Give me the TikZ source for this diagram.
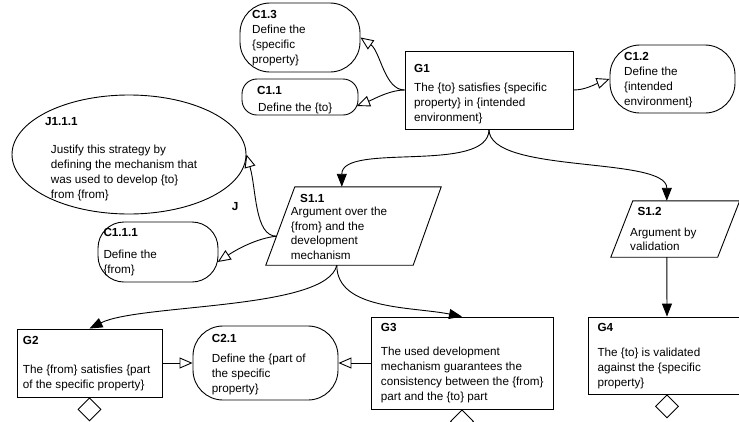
\documentclass[tikz,border=0pt]{standalone}
\usepackage{fontspec}
\setmainfont{Liberation Sans}
\usetikzlibrary{arrows.meta,calc,shapes.geometric}
\tikzset{
  ln/.style={line width=0.9pt},
  goalbox/.style={draw, ln, rectangle, inner sep=0pt},
  ctxbox/.style={draw, ln, rectangle, inner sep=0pt},
  ghost/.style={rectangle, inner sep=0pt},
  dia/.style={draw, ln, diamond, inner sep=0pt, minimum width=23pt, minimum height=23pt, anchor=north},
  ttl/.style={anchor=base west, inner sep=0pt, font=\fontsize{11.7}{15}\selectfont\bfseries},
  txt/.style={anchor=base west, inner sep=0pt, align=left, font=\fontsize{11.7}{15}\selectfont},
  inarrow/.style={ln, -{Triangle[open, length=13pt, width=11pt]}},
  solarrow/.style={ln, -{Triangle[length=13pt, width=10pt]}},
}
\begin{document}
\begin{tikzpicture}[x=1pt,y=-1pt]
\useasboundingbox (0,0) rectangle (739,421);
\clip (0,0) rectangle (739,421);
% ---- shapes
\node[ctxbox, rounded corners=30pt, minimum width=120pt, minimum height=69pt] (C13) at (300,37.5) {};
\node[ctxbox, rounded corners=15pt, minimum width=116pt, minimum height=36pt] (C11) at (300,97) {};
\node[ctxbox, rounded corners=30pt, minimum width=125pt, minimum height=68pt] (C12) at (672.5,79) {};
\node[goalbox, minimum width=168pt, minimum height=78pt] (G1) at (489,90) {};
\node[draw, ln, ellipse, inner sep=0pt, minimum width=234pt, minimum height=119pt] (J111) at (129,154.5) {};
\node[ctxbox, rounded corners=26pt, minimum width=120pt, minimum height=60pt] (C111) at (158,252) {};
\node[ghost, minimum width=175pt, minimum height=78pt] (S11) at (353.5,226) {};
\node[ghost, minimum width=128.5pt, minimum height=56pt] (S12) at (675.25,229) {};
\node[goalbox, minimum width=145pt, minimum height=68pt] (G2) at (89.5,363) {};
\node[ctxbox, rounded corners=30pt, minimum width=145pt, minimum height=74pt] (C21) at (265.5,363) {};
\node[goalbox, minimum width=182pt, minimum height=92pt] (G3) at (462,363) {};
\node[goalbox, minimum width=158pt, minimum height=77pt] (G4) at (667,355.5) {};
\node[dia] (D2) at (G2.south) {};
\node[dia] (D3) at (G3.south) {};
\node[dia] (D4) at (G4.south) {};
% parallelogram corners
\coordinate (S11tl) at ($(S11.north west)+(29,0)$);
\coordinate (S11br) at ($(S11.south east)+(-28,0)$);
\coordinate (S12tl) at ($(S12.north west)+(22,0)$);
\coordinate (S12br) at ($(S12.south east)+(-22,0)$);
\draw[ln] (S11tl) -- (S11.north east) -- (S11br) -- (S11.south west) -- cycle;
\draw[ln] (S12tl) -- (S12.north east) -- (S12br) -- (S12.south west) -- cycle;
% ---- texts (body nodes placed at the baseline of their last line)
\node[ttl] (C13t) at (252,18.3) {C1.3};
\node[txt] (C13b) at (252,63.3) {Define the\\\{specific\\property\}};
\node[ttl] (C11t) at (257,94.3) {C1.1};
\node[txt] (C11b) at (258,111) {Define the \{to\}};
\node[ttl] (G1t) at (414,72.7) {G1};
\node[txt] (G1b) at (414,121.7) {The \{to\} satisfies \{specific\\property\} in \{intended\\environment\}};
\node[ttl] (C12t) at (624,60.7) {C1.2};
\node[txt] (C12b) at (624,105.7) {Define the\\\{intended\\environment\}};
\node[ttl] (J111t) at (45,125) {J1.1.1};
\node[txt] (J111b) at (50.7,198.3) {Justify this strategy by\\defining the mechanism that\\was used to develop \{to\}\\from \{from\}};
\node[ttl] (Jlbl) at (231.7,210) {J};
\node[ttl] (C111t) at (103.3,236.7) {C1.1.1};
\node[txt] (C111b) at (103.3,273) {Define the\\\{from\}};
\node[ttl] (S11t) at (300,202.3) {S1.1};
\node[txt, font=\fontsize{11.7}{14.5}\selectfont] (S11b) at (290.7,259) {Argument over the\\\{from\} and the\\development\\mechanism};
\node[ttl] (S12t) at (637.3,215) {S1.2};
\node[txt, font=\fontsize{11.7}{14}\selectfont] (S12b) at (630,250) {Argument by\\validation};
\node[ttl] (G2t) at (22.7,344) {G2};
\node[txt] (G2b) at (22.7,388.3) {The \{from\} satisfies \{part\\of the specific property\}};
\node[ttl] (C21t) at (211.7,342.3) {C2.1};
\node[txt] (C21b) at (211.7,392) {Define the \{part of\\the specific\\property\}};
\node[ttl] (G3t) at (380.7,331.7) {G3};
\node[txt] (G3b) at (380.7,400.7) {The used development\\mechanism guarantees the\\consistency between the \{from\}\\part and the \{to\} part};
\node[ttl] (G4t) at (597.3,331.7) {G4};
\node[txt] (G4b) at (597.3,386.7) {The \{to\} is validated\\against the \{specific\\property\}};
% ---- connector end points
\coordinate (C11tip) at ($(C11.east)+(-1.5,9)$);
\coordinate (C111tip) at ($(C111.east)+(-0.7,10)$);
\coordinate (S11top) at ($(S11.north west)+(76,0)$);
\coordinate (S11bot) at ($(S11.south west)+(71,0)$);
\coordinate (S11left) at ($(S11tl)!0.63!(S11.south west)$);
\coordinate (S12top) at ($(S12.north west)+(56,0)$);
\coordinate (S12bot) at ($(S12.south west)+(56,0)$);
% ---- connectors
\draw[inarrow] (G1.west) .. controls +(-20,0) and +(20,14) .. (C13.east);
\draw[inarrow] (G1.west) .. controls +(-15,0) and +(15,-6) .. (C11tip);
\draw[inarrow] (G1.east) .. controls +(12,0) and +(-14,5) .. (C12.west);
\draw[solarrow] (G1.south) .. controls +(0,45) and +(0,-45) .. (S11top);
\draw[solarrow] (G1.south) .. controls +(0,45) and +(0,-45) .. (S12top);
\draw[inarrow] (S11left) .. controls +(-22,0) and +(10,35) .. (J111.east);
\draw[inarrow] (S11left) .. controls +(-20,2) and +(18,-12) .. (C111tip);
\draw[solarrow] (S11bot) .. controls +(-10,45) and +(50,-25) .. (G2.north);
\draw[solarrow] (S11bot) .. controls +(0,45) and +(-50,-10) .. (G3.north);
\draw[solarrow] (S12bot) -- (G4.north);
\draw[inarrow] (G2.east) -- (C21.west);
\draw[inarrow] (G3.west) -- (C21.east);
\end{tikzpicture}
\end{document}
